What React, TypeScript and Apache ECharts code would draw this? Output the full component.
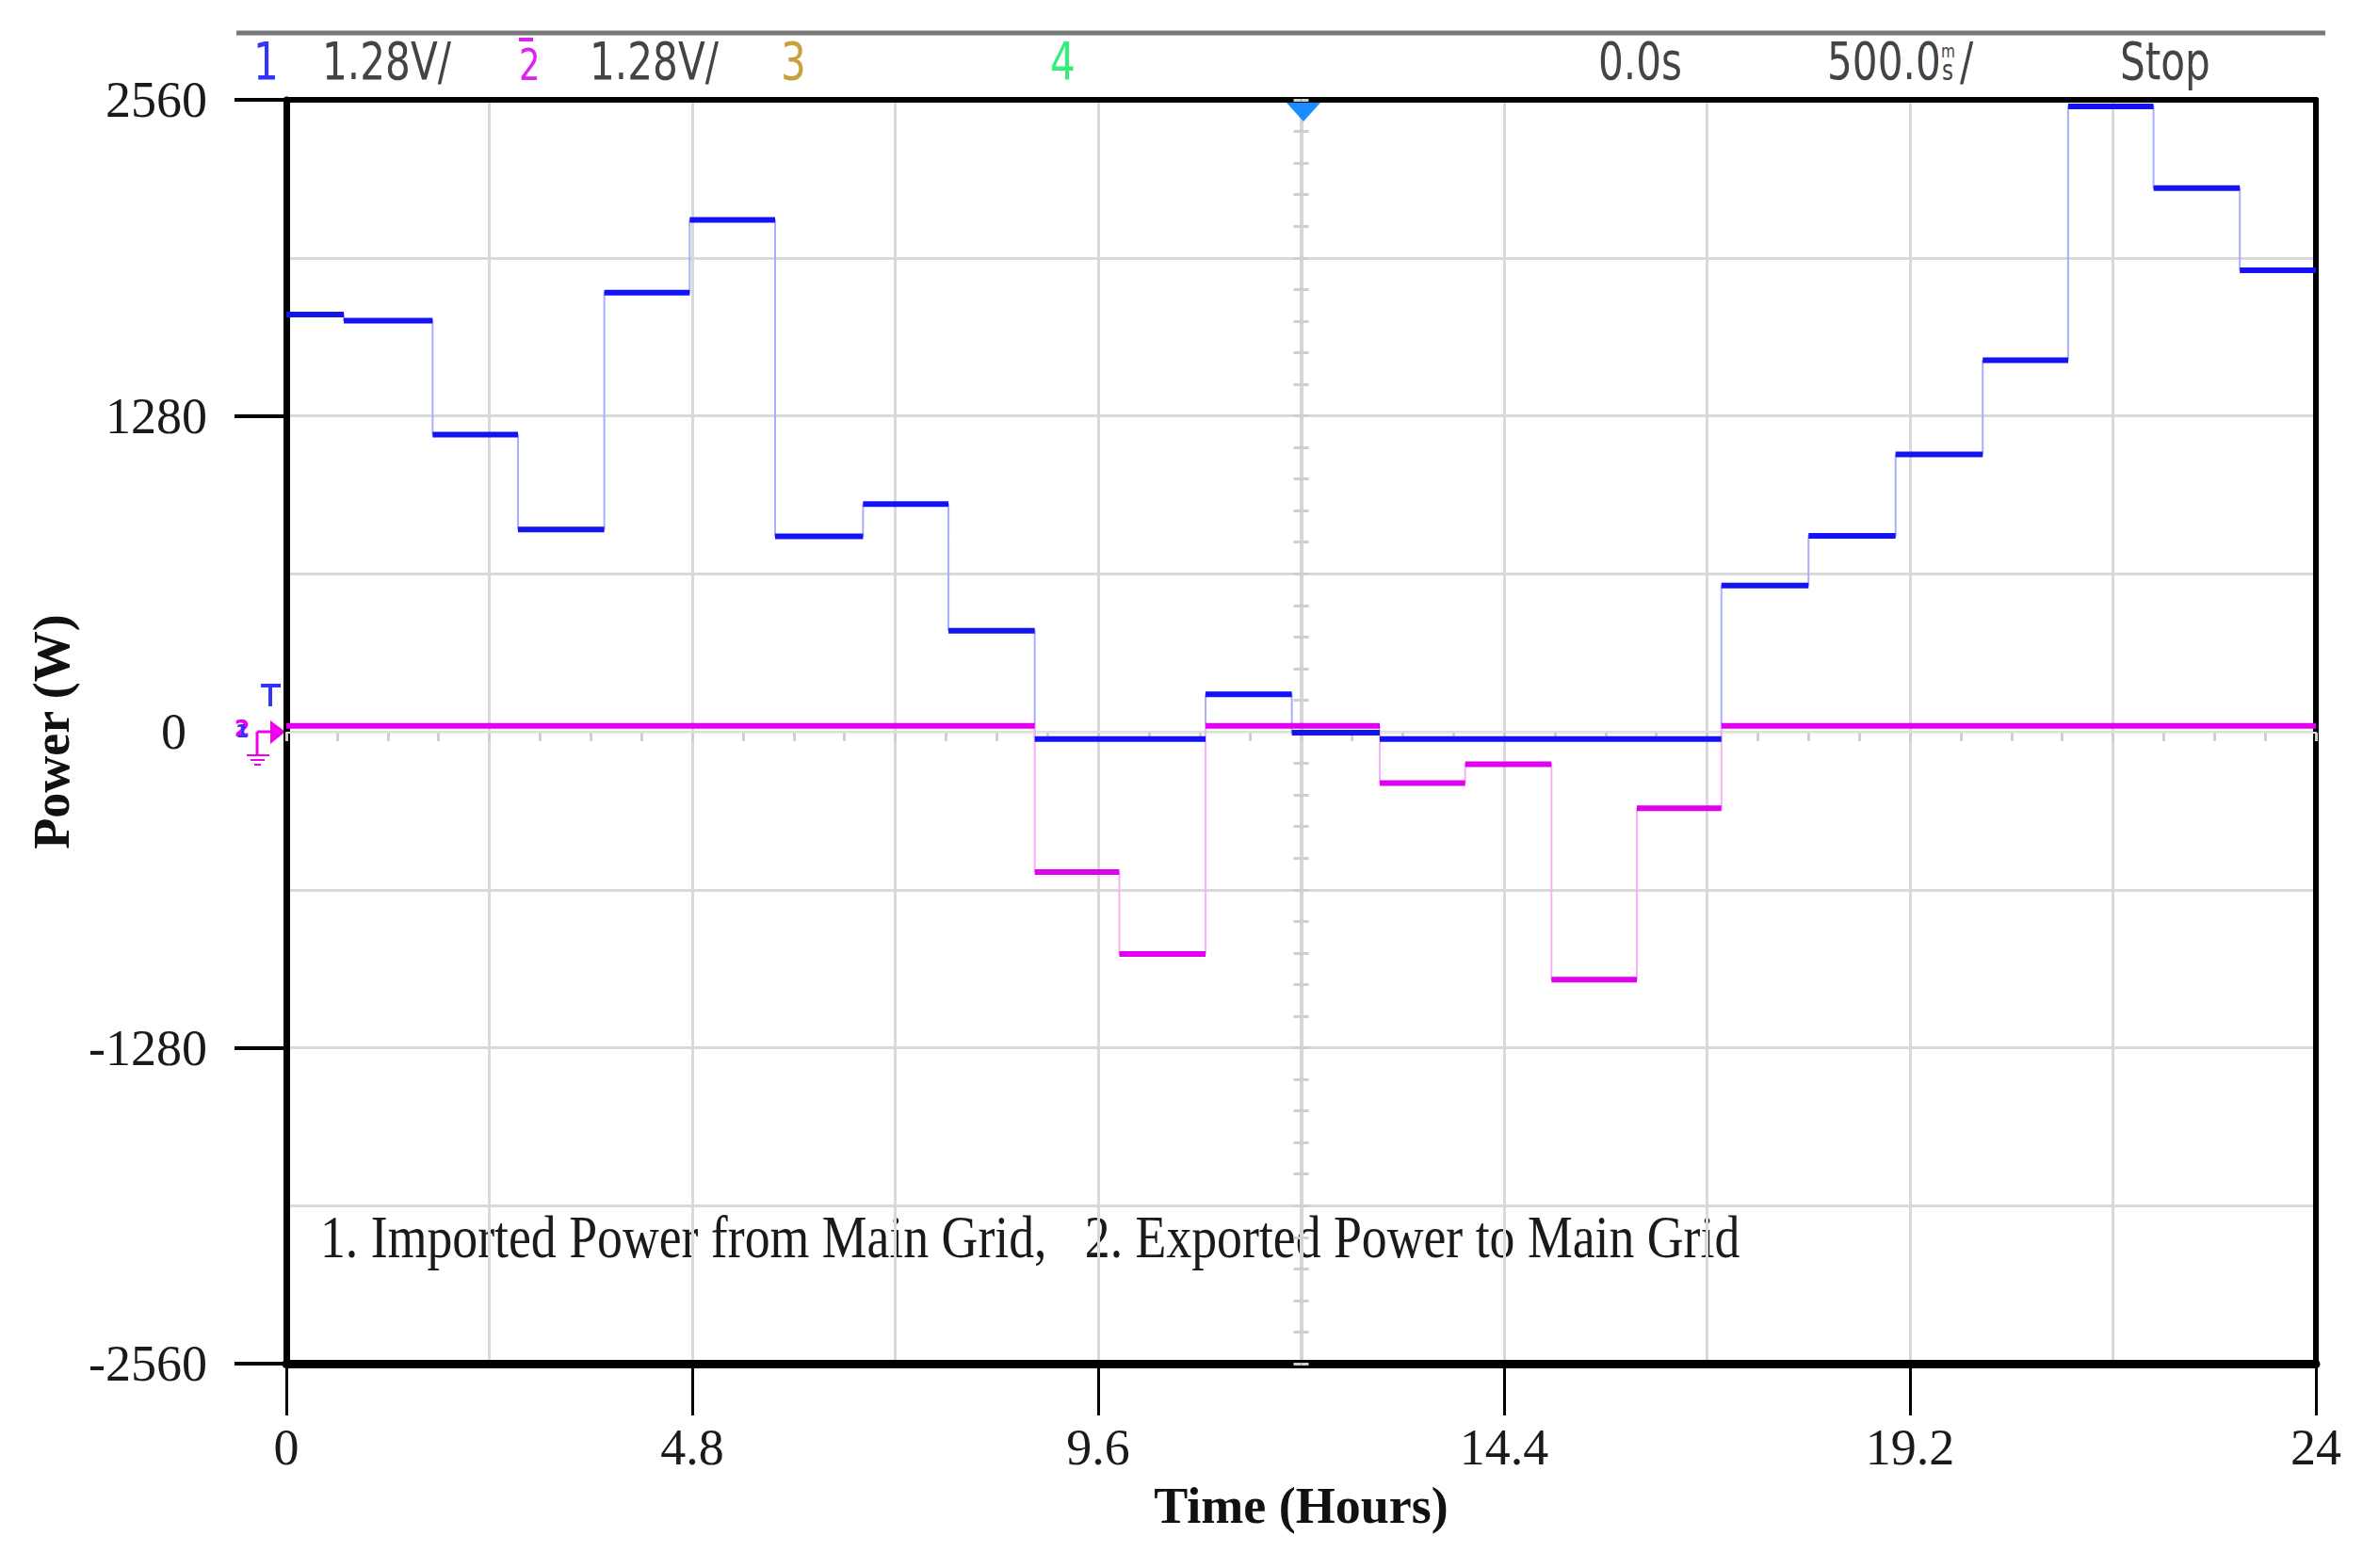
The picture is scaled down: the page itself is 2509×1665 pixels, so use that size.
import React, { useEffect, useRef } from "react";
import * as echarts from "echarts";

const W = 2509;
const H = 1665;

// Time (hours) at which each step of the traces begins (last value = end of window)
const stepTimes = [0, 0.68, 1.73, 2.74, 3.76, 4.77, 5.78, 6.82, 7.83, 8.85, 9.85, 10.87, 11.89, 12.93, 13.94, 14.96, 15.97, 16.97, 18.0, 19.03, 20.06, 21.07, 22.08, 23.1, 24];
// 1. Imported power from main grid (W), one value per step
const importedPower = [1690, 1665, 1204, 819, 1779, 2074, 792, 922, 409, -30, -30, 152, -4, -30, -30, -30, -30, 592, 794, 1124, 1505, 2533, 2202, 1869];
// 2. Exported power to main grid (W), one value per step
const exportedPower = [24, 24, 24, 24, 24, 24, 24, 24, 24, -568, -900, 24, 24, -208, -132, -1004, -310, 24, 24, 24, 24, 24, 24, 24];

const xTickLabels = [0, 4.8, 9.6, 14.4, 19.2, 24];
const yTickLabels = [2560, 1280, 0, -1280, -2560];
const yTickMarks = [2560, 1280, -1280, -2560];

const SERIF = '"Liberation Serif", "Times New Roman", serif';
const SANS = '"DejaVu Sans", "Liberation Sans", sans-serif';

function stepLine(vals: number[]) {
  const d: any[] = vals.map((v, i) => [stepTimes[i], v]);
  d.push([stepTimes[stepTimes.length - 1], vals[vals.length - 1]]);
  return d;
}
function plateaus(vals: number[]) {
  const d: any[] = [];
  vals.forEach((v, i) => {
    d.push([stepTimes[i], v], [stepTimes[i + 1], v], "-");
  });
  return d;
}

function measure(text: string, font: string) {
  const c = document.createElement("canvas").getContext("2d")!;
  c.font = font;
  return c.measureText(text).width || 1;
}

const hidden = {
  axisLine: { show: false },
  axisTick: { show: false },
  axisLabel: { show: false },
};

export default function App() {
  const ref = useRef<HTMLDivElement>(null);
  useEffect(() => {
    const el = ref.current!;
    const chart = echarts.init(el, null, { renderer: "svg", width: W, height: H });

    const hdrSize = 55;
    const hdrScale = 137 / measure("1.28V/", `${hdrSize}px "DejaVu Sans"`);
    const noteSize = 63;
    const noteText = "1. Imported Power from Main Grid,   2. Exported Power to Main Grid";
    const noteScale = 1507 / measure(noteText, `${noteSize}px "Liberation Serif"`);

    const hdr = (text: string, x: number, fill: string, extra: any = {}) => ({
      type: "text",
      x,
      y: 65,
      scaleX: hdrScale,
      style: { text, fontSize: hdrSize, fontFamily: SANS, fill, align: "left", verticalAlign: "middle", ...extra },
    });

    const option: any = {
      animation: false,
      backgroundColor: "#ffffff",
      grid: { left: 304, right: 50, top: 106, bottom: 217, show: false },
      xAxis: [
        {
          // grid lines every 2.4 h
          type: "value",
          position: "bottom",
          min: 0,
          max: 24,
          interval: 2.4,
          ...hidden,
          splitLine: { show: true, lineStyle: { color: "#d9d9d9", width: 3 } },
        },
        {
          type: "value",
          position: "bottom",
          min: 0,
          max: 24,
          interval: 4.8,
          axisLine: { show: true, onZero: false, lineStyle: { color: "#000", width: 9 } },
          splitLine: { show: false },
          axisTick: { show: true, customValues: xTickLabels, length: 55, lineStyle: { color: "#000", width: 3 } },
          axisLabel: {
            customValues: xTickLabels,
            formatter: (v: number) => String(parseFloat(Number(v).toFixed(1))),
            fontFamily: SERIF,
            fontSize: 54,
            color: "#1a1a1a",
            margin: 62,
          },
          name: "Time (Hours)",
          nameLocation: "middle",
          nameGap: 124,
          nameTextStyle: { fontFamily: SERIF, fontWeight: "bold", fontSize: 54, color: "#111" },
        },
        {
          type: "value",
          position: "bottom",
          offset: -670,
          min: 0,
          max: 24,
          interval: 0.6,
          axisLine: { show: true, onZero: false, lineStyle: { color: "#e6e6da", width: 2 } },
          axisTick: { show: true, length: 9, lineStyle: { color: "#cfcfcf", width: 3 } },
          axisLabel: { show: false },
          splitLine: { show: false },
        },
        {
          type: "value",
          position: "top",
          min: 0,
          max: 24,
          axisLine: { show: true, onZero: false, lineStyle: { color: "#000", width: 6 } },
          axisTick: { show: false },
          axisLabel: { show: false },
          splitLine: { show: false },
        },
      ],
      yAxis: [
        {
          // grid lines every 640 W
          type: "value",
          position: "left",
          min: -2560,
          max: 2560,
          interval: 640,
          ...hidden,
          splitLine: { show: true, lineStyle: { color: "#d9d9d9", width: 3 } },
        },
        {
          type: "value",
          position: "left",
          min: -2560,
          max: 2560,
          interval: 1280,
          axisLine: { show: true, onZero: false, lineStyle: { color: "#000", width: 7 } },
          splitLine: { show: false },
          axisTick: { show: true, customValues: yTickMarks, length: 55, lineStyle: { color: "#000", width: 4 } },
          axisLabel: {
            customValues: yTickLabels,
            formatter: (v: number) => (v === 0 ? "{z|0}" : String(v)),
            fontFamily: SERIF,
            fontSize: 54,
            color: "#1a1a1a",
            margin: 84,
            rich: { z: { fontFamily: SERIF, fontSize: 54, color: "#1a1a1a", padding: [0, 22, 0, 0] } },
          },
          name: "Power (W)",
          nameLocation: "middle",
          nameGap: 222,
          nameRotate: 90,
          nameTextStyle: { fontFamily: SERIF, fontWeight: "bold", fontSize: 54, color: "#111" },
        },
        {
          type: "value",
          position: "left",
          offset: -1077.5,
          min: -2560,
          max: 2560,
          interval: 128,
          axisLine: { show: true, onZero: false, lineStyle: { color: "#d6d6d6", width: 4 } },
          axisTick: { show: true, inside: false, length: 8, lineStyle: { color: "#cfcfcf", width: 3 } },
          axisLabel: { show: false },
          splitLine: { show: false },
        },
        {
          type: "value",
          position: "left",
          offset: -1077.5,
          min: -2560,
          max: 2560,
          interval: 128,
          axisLine: { show: false },
          axisTick: { show: true, inside: true, length: 8, lineStyle: { color: "#cfcfcf", width: 3 } },
          axisLabel: { show: false },
          splitLine: { show: false },
        },
        {
          type: "value",
          position: "right",
          min: -2560,
          max: 2560,
          axisLine: { show: true, onZero: false, lineStyle: { color: "#000", width: 6 } },
          axisTick: { show: false },
          axisLabel: { show: false },
          splitLine: { show: false },
        },
      ],
      series: [
        {
          name: "Imported transitions",
          type: "line",
          step: "end",
          data: stepLine(importedPower),
          showSymbol: false,
          silent: true,
          lineStyle: { color: "#a9aeff", width: 2 },
          z: 3,
        },
        {
          name: "Exported transitions",
          type: "line",
          step: "end",
          data: stepLine(exportedPower),
          showSymbol: false,
          silent: true,
          lineStyle: { color: "#f5b2f7", width: 2 },
          z: 3,
        },
        {
          name: "1. Imported Power from Main Grid",
          type: "line",
          data: plateaus(importedPower),
          showSymbol: false,
          connectNulls: false,
          lineStyle: { color: "#1414f2", width: 6 },
          z: 4,
        },
        {
          name: "2. Exported Power to Main Grid",
          type: "line",
          data: plateaus(exportedPower),
          showSymbol: false,
          connectNulls: false,
          lineStyle: { color: "#e000ee", width: 6 },
          z: 5,
        },
      ],
      graphic: [
        // header bar
        { type: "line", shape: { x1: 251, y1: 35, x2: 2469, y2: 35 }, style: { stroke: "#777", lineWidth: 5 } },
        hdr("1", 269, "#3333ff"),
        hdr("1.28V/", 342, "#444"),
        {
          type: "text",
          x: 551,
          y: 69,
          scaleX: hdrScale,
          style: { text: "2", fontSize: 46, fontFamily: SANS, fill: "#e020f0", align: "left", verticalAlign: "middle" },
        },
        { type: "line", shape: { x1: 551, y1: 42, x2: 566, y2: 42 }, style: { stroke: "#e020f0", lineWidth: 4 } },
        hdr("1.28V/", 626, "#444"),
        hdr("3", 829, "#c8a040"),
        hdr("4", 1115, "#33ee77"),
        hdr("0.0s", 1697, "#444"),
        hdr("500.0", 1940, "#444"),
        { type: "text", x: 2061, y: 54, scaleX: hdrScale, style: { text: "m", fontSize: 20, fontFamily: SANS, fill: "#444", align: "left", verticalAlign: "middle" } },
        { type: "text", x: 2062, y: 74, scaleX: hdrScale, style: { text: "s", fontSize: 30, fontFamily: SANS, fill: "#444", align: "left", verticalAlign: "middle" } },
        hdr("/", 2081, "#444"),
        hdr("Stop", 2251, "#444"),
        // trigger marker at top
        { type: "polygon", shape: { points: [[1366, 109], [1402, 109], [1384, 129]] }, style: { fill: "#1a8cff" }, z: 10 },
        // channel / ground marker at zero level
        { type: "line", shape: { x1: 277, y1: 728, x2: 298, y2: 728 }, style: { stroke: "#3333ff", lineWidth: 4 } },
        { type: "line", shape: { x1: 287, y1: 728, x2: 287, y2: 750 }, style: { stroke: "#3333ff", lineWidth: 4 } },
        { type: "polygon", shape: { points: [[287, 765], [287, 790], [303, 777]] }, style: { fill: "#ee00ee" } },
        { type: "line", shape: { x1: 273, y1: 777, x2: 288, y2: 777 }, style: { stroke: "#ee00ee", lineWidth: 3 } },
        { type: "line", shape: { x1: 273, y1: 777, x2: 273, y2: 802 }, style: { stroke: "#ee00ee", lineWidth: 3 } },
        { type: "line", shape: { x1: 262, y1: 802, x2: 286, y2: 802 }, style: { stroke: "#ee00ee", lineWidth: 2 } },
        { type: "line", shape: { x1: 266, y1: 807, x2: 281, y2: 807 }, style: { stroke: "#ee00ee", lineWidth: 2 } },
        { type: "line", shape: { x1: 270, y1: 812, x2: 277, y2: 812 }, style: { stroke: "#ee00ee", lineWidth: 2 } },
        { type: "text", x: 257, y: 774, style: { text: "2", fontSize: 24, fontWeight: "bold", fontFamily: SANS, fill: "#ee00ee", align: "center", verticalAlign: "middle" } },
        { type: "text", x: 257, y: 776, style: { text: "1", fontSize: 20, fontWeight: "bold", fontFamily: SANS, fill: "#3333ff", align: "center", verticalAlign: "middle" } },
        // annotation
        {
          type: "text",
          x: 340,
          y: 1314,
          scaleX: noteScale,
          style: { text: noteText, fontSize: noteSize, fontFamily: SERIF, fill: "#1a1a1a", align: "left", verticalAlign: "middle" },
        },
      ],
    };

    chart.setOption(option);
    return () => chart.dispose();
  }, []);

  return (
    <div
      ref={ref}
      style={{ position: "fixed", left: 0, top: 0, width: W, height: H, background: "#ffffff" }}
    />
  );
}
